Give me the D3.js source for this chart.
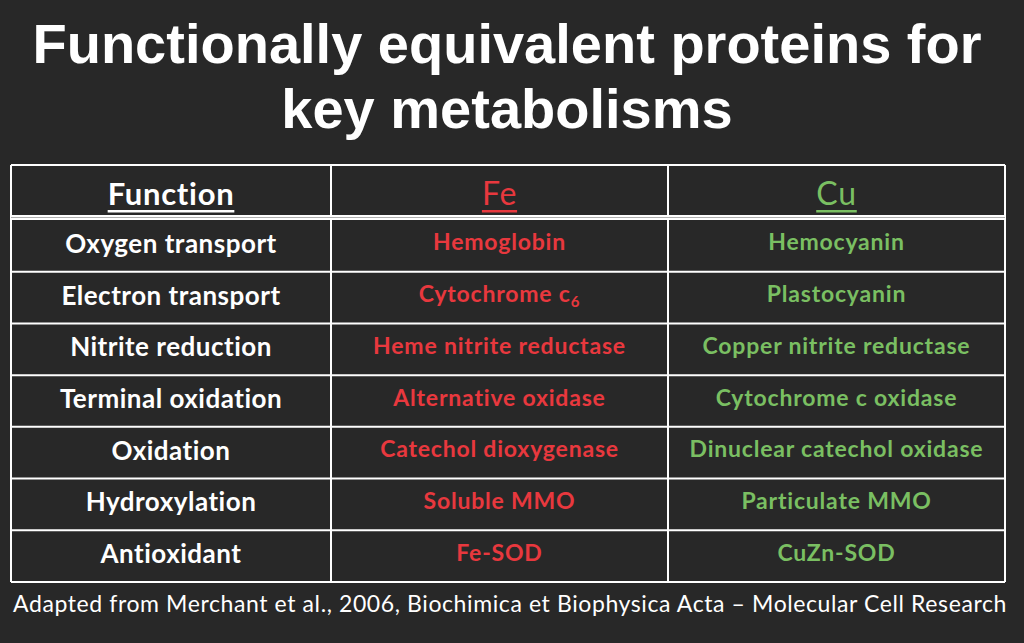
<!DOCTYPE html>
<html><head><meta charset="utf-8">
<script src="https://cdn.jsdelivr.net/npm/d3@7"></script>
<style>html,body{margin:0;padding:0;background:#282828;}svg{display:block;}</style>
</head><body>
<script>
const titleLines = ["Functionally equivalent proteins for", "key metabolisms"];
const headers = ["Function", "Fe", "Cu"];
const functions = ["Oxygen transport","Electron transport","Nitrite reduction","Terminal oxidation","Oxidation","Hydroxylation","Antioxidant"];
const feProteins = ["Hemoglobin","Cytochrome c|6","Heme nitrite reductase","Alternative oxidase","Catechol dioxygenase","Soluble MMO","Fe-SOD"];
const cuProteins = ["Hemocyanin","Plastocyanin","Copper nitrite reductase","Cytochrome c oxidase","Dinuclear catechol oxidase","Particulate MMO","CuZn-SOD"];
const footnote = "Adapted from Merchant et al., 2006, Biochimica et Biophysica Acta \u2013 Molecular Cell Research";

const W = 1024, H = 643;
const BG = "#282828", RED = "#e8383e", GREEN = "#7abf62";
const colColors = ["#ffffff", RED, GREEN];

const svg = d3.select("body").append("svg").attr("width", W).attr("height", H);
svg.append("rect").attr("width", W).attr("height", H).attr("fill", BG);

// title
svg.selectAll("text.title").data(titleLines).join("text")
  .attr("class","title")
  .attr("x", 507).attr("y", (d,i) => 63 + i*65)
  .attr("text-anchor","middle")
  .attr("font-family","Liberation Sans, Arial, sans-serif")
  .attr("font-weight","bold").attr("font-size", 56)
  .attr("fill","#fff").text(d => d);

// table geometry via scales
const x = d3.scaleOrdinal().domain([0,1,2]).range([11, 331, 668]);
const colRight = 1005;
const colW = i => (i < 2 ? x(i+1) : colRight) - x(i);
const headTop = 165;
const y = d3.scaleBand().domain(d3.range(functions.length)).range([220, 582]);

const g = svg.append("g");
// header cells text
headers.forEach((h, i) => {
  const t = g.append("text")
    .attr("x", x(i) + colW(i)/2).attr("y", 205)
    .attr("text-anchor","middle")
    .attr("font-family","Lato, sans-serif").attr("font-weight", i === 0 ? "bold" : "normal")
    .attr("font-size", i === 0 ? 31 : 32)
    .attr("letter-spacing", i === 0 ? 0.7 : 0.8)
    .attr("fill", colColors[i]).text(h);
  const bb = t.node().getBBox();
  g.append("rect").attr("x", bb.x).attr("y", 210).attr("width", bb.width).attr("height", 2.5)
    .attr("fill", colColors[i]);
});

// body rows
const cols = [functions, feProteins, cuProteins];
cols.forEach((arr, ci) => {
  arr.forEach((d, ri) => {
    const cy = y(ri) + y.bandwidth()/2;
    const t = g.append("text")
      .attr("x", x(ci) + colW(ci)/2)
      .attr("y", cy + (ci === 0 ? 7 : 4.5))
      .attr("text-anchor","middle")
      .attr("font-family","Lato, sans-serif").attr("font-weight","bold")
      .attr("font-size", ci === 0 ? 26 : 23)
      .attr("letter-spacing", ci === 0 ? 0.5 : 0.8)
      .attr("fill", colColors[ci]);
    const parts = d.split("|");
    t.append("tspan").text(parts[0]);
    if (parts[1]) t.append("tspan").attr("font-size", 15).attr("dy", 5).text(parts[1]);
  });
});

// grid lines
const lineColor = "#ffffff";
const vx = [11, 331, 668, colRight];
vx.forEach(v => g.append("line").attr("x1", v).attr("x2", v).attr("y1", headTop).attr("y2", 582)
  .attr("stroke", lineColor).attr("stroke-width", 2));
g.append("line").attr("x1", 11).attr("x2", colRight).attr("y1", headTop).attr("y2", headTop)
  .attr("stroke", lineColor).attr("stroke-width", 2);
g.append("rect").attr("x", 11).attr("y", 215).attr("width", colRight-11).attr("height", 5).attr("fill", lineColor);
g.append("line").attr("x1", 11).attr("x2", colRight).attr("y1", 217.5).attr("y2", 217.5)
  .attr("stroke", "#9a9a9a").attr("stroke-width", 0.8);
d3.range(1, functions.length).forEach(ri => {
  g.append("line").attr("x1", 11).attr("x2", colRight).attr("y1", y(ri)).attr("y2", y(ri))
    .attr("stroke", lineColor).attr("stroke-width", 2);
});
g.append("line").attr("x1", 11).attr("x2", colRight).attr("y1", 582).attr("y2", 582)
  .attr("stroke", lineColor).attr("stroke-width", 2);

// footnote
svg.append("text").attr("x", 510).attr("y", 612).attr("text-anchor","middle")
  .attr("font-family","Lato, sans-serif").attr("font-size", 23).attr("letter-spacing", 0.6)
  .attr("fill","#fff").text(footnote);
</script>
</body></html>
